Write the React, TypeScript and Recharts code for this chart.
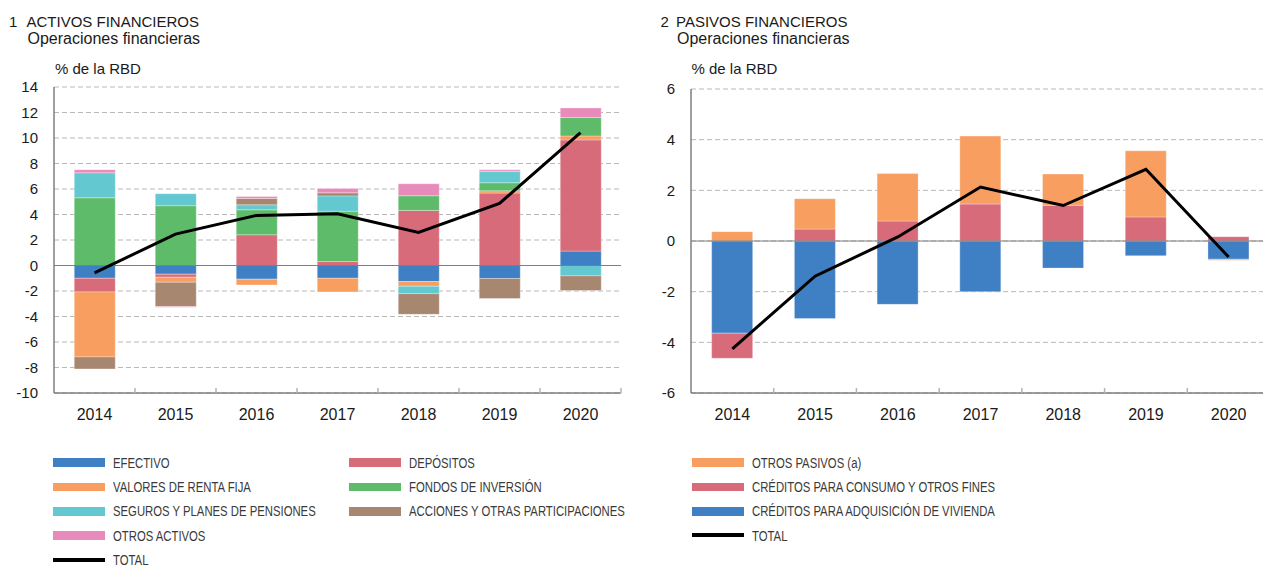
import React from 'react';
import { ComposedChart, Bar, Line, XAxis, YAxis, CartesianGrid, ReferenceLine } from 'recharts';

// years
const years = ['2014', '2015', '2016', '2017', '2018', '2019', '2020'];

// 1 Activos financieros (% de la RBD)
const efectivo = [-1.0, -0.68, -1.07, -1.0, -1.26, -1.02, 1.13];
const depositos = [-1.07, -0.24, 2.41, 0.31, 4.32, 5.68, 8.72];
const rentaFija = [-5.1, -0.39, -0.45, -1.07, -0.37, 0.18, 0.31];
const fondos = [5.31, 4.69, 1.96, 3.95, 1.15, 0.63, 1.44];
const seguros = [1.96, 0.94, 0.39, 1.2, -0.58, 0.89, -0.81];
const acciones = [-0.94, -1.91, 0.5, 0.24, -1.62, -1.57, -1.15];
const otrosActivos = [0.24, -0.05, 0.16, 0.34, 0.94, 0.13, 0.76];
const totalActivos = [-0.58, 2.46, 3.93, 4.06, 2.59, 4.87, 10.42];

// 2 Pasivos financieros (% de la RBD)
const vivienda = [-3.64, -3.06, -2.5, -2.0, -1.07, -0.58, -0.72];
const consumo = [-0.99, 0.47, 0.79, 1.46, 1.41, 0.95, 0.17];
const otrosPasivos = [0.37, 1.2, 1.87, 2.68, 1.23, 2.61, -0.04];
const totalPasivos = [-4.26, -1.39, 0.16, 2.13, 1.4, 2.83, -0.63];

const ticksActivos = [-10, -8, -6, -4, -2, 0, 2, 4, 6, 8, 10, 12, 14];
const ticksPasivos = [-6, -4, -2, 0, 2, 4, 6];

const C = {
  blue: '#3f7fc3',
  red: '#d76b79',
  orange: '#f89e61',
  green: '#5dbb69',
  cyan: '#63c8d0',
  brown: '#a88770',
  pink: '#e88bbb',
};

const activosData = years.map((y, i) => ({
  year: y,
  efectivo: efectivo[i],
  depositos: depositos[i],
  rentaFija: rentaFija[i],
  fondos: fondos[i],
  seguros: seguros[i],
  acciones: acciones[i],
  otros: otrosActivos[i],
  total: totalActivos[i],
}));

const pasivosData = years.map((y, i) => ({
  year: y,
  vivienda: vivienda[i],
  consumo: consumo[i],
  otros: otrosPasivos[i],
  total: totalPasivos[i],
}));

const FONT = '"Liberation Sans", Arial, sans-serif';
const AXIS = '#7f7f7f';

const XTick = (props: any) => {
  const { x, y, payload, band } = props;
  return (
    <g>
      <line x1={x + band / 2} x2={x + band / 2} y1={y} y2={y - 5} stroke="#b4b4b4" strokeWidth={1.5} />
      <text x={x} y={y + 16} dy="0.71em" textAnchor="middle" fontSize={16} fill="#1a1a1a" fontFamily={FONT}>
        {payload.value}
      </text>
    </g>
  );
};

type Series = { key: string; color: string };

const activosSeries: Series[] = [
  { key: 'efectivo', color: C.blue },
  { key: 'depositos', color: C.red },
  { key: 'rentaFija', color: C.orange },
  { key: 'fondos', color: C.green },
  { key: 'seguros', color: C.cyan },
  { key: 'acciones', color: C.brown },
  { key: 'otros', color: C.pink },
];

const pasivosSeries: Series[] = [
  { key: 'vivienda', color: C.blue },
  { key: 'consumo', color: C.red },
  { key: 'otros', color: C.orange },
];

type PanelProps = {
  data: any[];
  series: Series[];
  domain: [number, number];
  ticks: number[];
  top: number;
  right: number;
  yWidth: number;
};

const W = 640;
const H = 440;
const XH = 47;

const Panel: React.FC<PanelProps> = ({ data, series, domain, ticks, top, right, yWidth }) => {
  const band = (W - right - yWidth) / data.length;
  return (
    <ComposedChart width={W} height={H} data={data} stackOffset="sign" barCategoryGap="25%"
      margin={{ top, right, left: 0, bottom: 0 }}>
      <CartesianGrid vertical={false} strokeDasharray="5 3" stroke="#b8b8b8" />
      <XAxis dataKey="year" height={XH} tickSize={0} tickMargin={0} axisLine={{ stroke: AXIS, strokeWidth: 1.5 }}
        tickLine={false} interval={0} tick={(p: any) => <XTick {...p} band={band} />} />
      <YAxis width={yWidth} domain={domain} ticks={ticks} interval={0} tickSize={0} tickMargin={16}
        tickLine={false} axisLine={{ stroke: AXIS, strokeWidth: 1.5 }}
        tick={{ fontSize: 15, fill: '#1a1a1a', fontFamily: FONT }} />
      {series.map((s) => (
        <Bar key={s.key} dataKey={s.key} stackId="a" fill={s.color} stroke="#ffffff" strokeWidth={0.5}
          strokeOpacity={0.6} isAnimationActive={false} />
      ))}
      <ReferenceLine y={0} stroke={AXIS} strokeWidth={1.2} />
      <Line dataKey="total" type="linear" stroke="#000000" strokeWidth={3} dot={false} isAnimationActive={false} />
    </ComposedChart>
  );
};

type LegendItem = { label: string; color: string; line?: boolean };

const legendLeft1: LegendItem[] = [
  { label: 'EFECTIVO', color: C.blue },
  { label: 'VALORES DE RENTA FIJA', color: C.orange },
  { label: 'SEGUROS Y PLANES DE PENSIONES', color: C.cyan },
  { label: 'OTROS ACTIVOS', color: C.pink },
  { label: 'TOTAL', color: '#000', line: true },
];
const legendLeft2: LegendItem[] = [
  { label: 'DEPÓSITOS', color: C.red },
  { label: 'FONDOS DE INVERSIÓN', color: C.green },
  { label: 'ACCIONES Y OTRAS PARTICIPACIONES', color: C.brown },
];
const legendRight: LegendItem[] = [
  { label: 'OTROS PASIVOS (a)', color: C.orange },
  { label: 'CRÉDITOS PARA CONSUMO Y OTROS FINES', color: C.red },
  { label: 'CRÉDITOS PARA ADQUISICIÓN DE VIVIENDA', color: C.blue },
  { label: 'TOTAL', color: '#000', line: true },
];

const LegendCol: React.FC<{ items: LegendItem[]; x: number }> = ({ items, x }) => (
  <>
    {items.map((it, i) => {
      const cy = 462.8 + i * 24.2;
      const h = it.line ? 4 : 8.7;
      return (
        <React.Fragment key={it.label}>
          <div style={{ position: 'absolute', left: x, top: cy - h / 2, width: 52, height: h, background: it.color }} />
          <div style={{
            position: 'absolute', left: x + 60, top: cy - 4.8, fontSize: 15.5, lineHeight: '10px',
            fontFamily: FONT, color: '#3a3a3a', whiteSpace: 'nowrap',
            transform: 'scaleX(0.73)', transformOrigin: 'left center',
          }}>{it.label}</div>
        </React.Fragment>
      );
    })}
  </>
);

const Txt: React.FC<{ x: number; top: number; size: number; children: React.ReactNode }> = ({ x, top, size, children }) => (
  <div style={{ position: 'absolute', left: x, top, fontSize: size, lineHeight: `${size}px`, fontFamily: FONT,
    color: '#1a1a1a', whiteSpace: 'pre' }}>{children}</div>
);

export default function App() {
  return (
    <div style={{ position: 'fixed', left: 0, top: 0, width: 1263, height: 567, overflow: 'hidden', background: '#fff' }}>
      <Txt x={9} top={14} size={15}>1</Txt>
      <Txt x={26.5} top={14} size={15}>ACTIVOS FINANCIEROS</Txt>
      <Txt x={27.5} top={31.3} size={16}>Operaciones financieras</Txt>
      <Txt x={55} top={61.3} size={15}>% de la RBD</Txt>

      <Txt x={660.5} top={14} size={15}>2</Txt>
      <Txt x={676} top={14} size={15}>PASIVOS FINANCIEROS</Txt>
      <Txt x={677} top={31.3} size={16}>Operaciones financieras</Txt>
      <Txt x={691.5} top={61.3} size={15}>% de la RBD</Txt>

      <div style={{ position: 'absolute', left: 0, top: 0 }}>
        <Panel data={activosData} series={activosSeries} domain={[-10, 14]} ticks={ticksActivos}
          top={87} right={19} yWidth={54} />
      </div>
      <div style={{ position: 'absolute', left: 640, top: 0 }}>
        <Panel data={pasivosData} series={pasivosSeries} domain={[-6, 6]} ticks={ticksPasivos}
          top={89} right={10} yWidth={51} />
      </div>

      <LegendCol items={legendLeft1} x={52.7} />
      <LegendCol items={legendLeft2} x={349.3} />
      <LegendCol items={legendRight} x={692} />
    </div>
  );
}
